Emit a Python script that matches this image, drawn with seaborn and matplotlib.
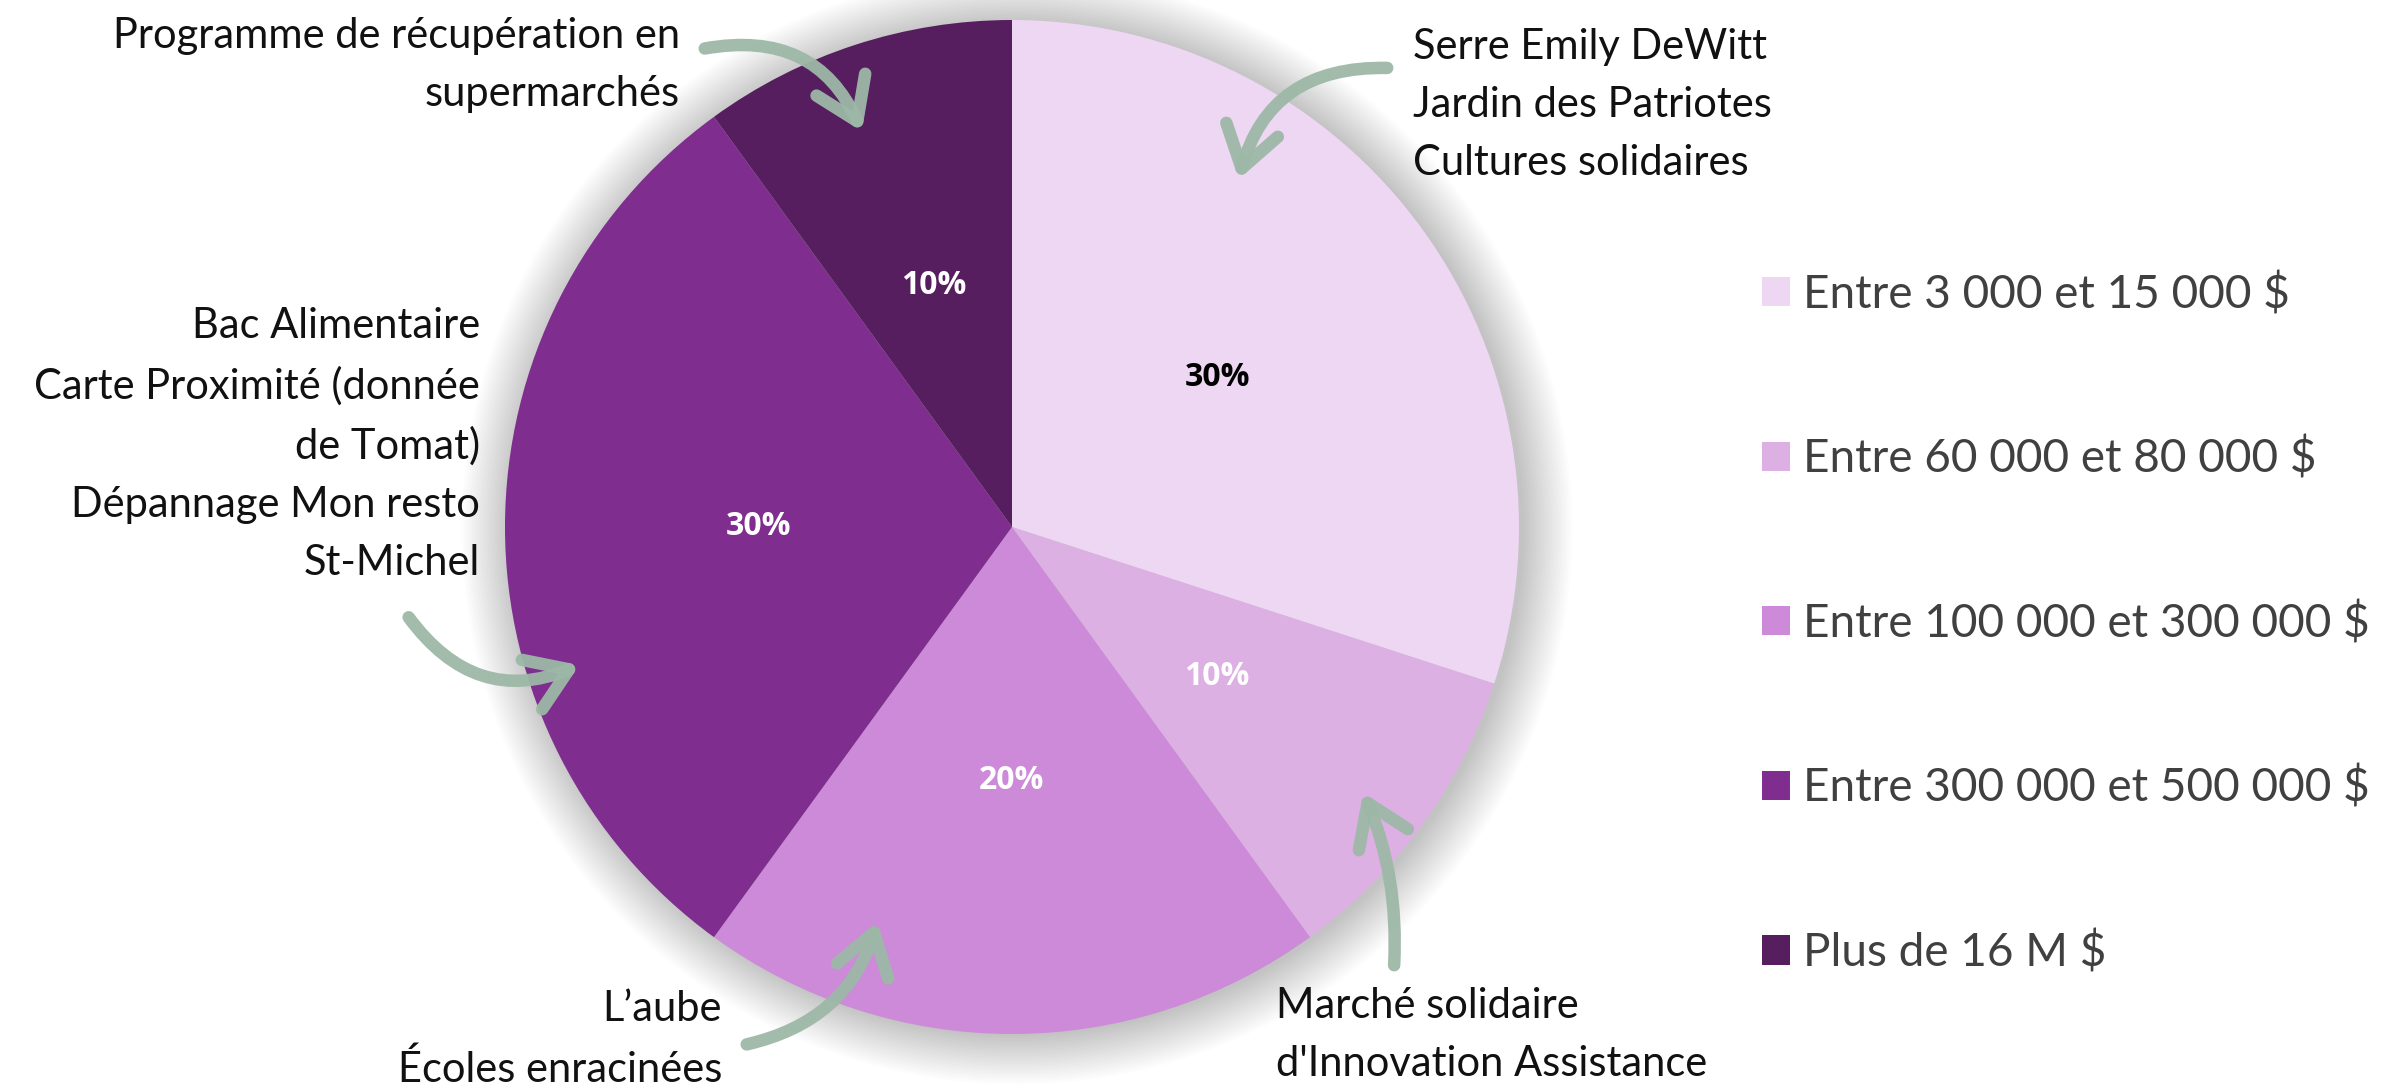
import matplotlib
matplotlib.use("Agg")
import matplotlib.pyplot as plt
import seaborn as sns
from matplotlib.patches import FancyArrowPatch, Circle

# ---- data ----
categories = ["Entre 3 000 et 15 000 $", "Entre 60 000 et 80 000 $",
              "Entre 100 000 et 300 000 $", "Entre 300 000 et 500 000 $",
              "Plus de 16 M $"]
shares = [30, 10, 20, 30, 10]
slice_colors = ["#EDD7F2", "#DDB0E3", "#CC8AD8", "#7F2D8E", "#561E5E"]
pct_text_colors = ["#000000", "#FFFFFF", "#FFFFFF", "#FFFFFF", "#FFFFFF"]

notes = [
    "Programme de récupération en\nsupermarchés",
    "Serre Emily DeWitt\nJardin des Patriotes\nCultures solidaires",
    "Bac Alimentaire\nCarte Proximité (donnée\nde Tomat)\nDépannage Mon resto\nSt-Michel",
    "L’aube\nÉcoles enracinées",
    "Marché solidaire\nd'Innovation Assistance",
]

sns.set_theme(style="white")
plt.rcParams["font.family"] = ["Lato", "DejaVu Sans"]

W, H = 2382, 1088
fig = plt.figure(figsize=(W / 100, H / 100), dpi=100)
fig.patch.set_facecolor("white")

# pie axes: center (1012, 527) px from top, radius ~507 px
cx, cy, r = 1012, 527, 507
ax = fig.add_axes([(cx - r) / W, (H - cy - r) / H, 2 * r / W, 2 * r / H])
ax.set_aspect("equal")

# soft shadow
for k in range(20):
    c = Circle((0.01, -0.004), 1.0 + k * 0.005, color="#000000",
               alpha=0.010, lw=0, zorder=0)
    c.set_clip_on(False)
    ax.add_patch(c)

wedges, texts, autotexts = ax.pie(
    shares, colors=slice_colors, startangle=90, counterclock=False,
    autopct="%.0f%%", pctdistance=0.5, radius=1.0,
    wedgeprops=dict(edgecolor="none", linewidth=0),
    textprops=dict(fontsize=23, fontweight="bold",
                   family=["Open Sans", "DejaVu Sans"]))
for w in wedges:
    w.set_zorder(2)
for t, c in zip(autotexts, pct_text_colors):
    t.set_color(c)
    t.set_zorder(3)
ax.set_xlim(-1, 1)
ax.set_ylim(-1, 1)
ax.axis("off")

# legend
leg = fig.legend(wedges, categories, loc="upper left",
                 bbox_to_anchor=(1762 / W, 1 - 272 / H), frameon=False,
                 fontsize=33, labelcolor="#404040", handlelength=0.6,
                 handleheight=0.6, handletextpad=0.3, labelspacing=2.63,
                 borderaxespad=0, borderpad=0)

# annotation texts
tkw = dict(fontsize=30, color="#111111", linespacing=1.65)
def fy(y):
    return 1 - y / H
fig.text(680 / W, fy(17), notes[0], ha="right", va="top", **tkw)
fig.text(1413 / W, fy(28), notes[1], ha="left", va="top", **tkw)
fig.text(480 / W, fy(307), notes[2], ha="right", va="top", **tkw)
fig.text(722 / W, fy(990), notes[3], ha="right", va="top", **tkw)
fig.text(1276 / W, fy(987), notes[4], ha="left", va="top", **tkw)

# curved arrows (figure pixel coords, y from top)
arrows = [((702, 49), (863, 134), -0.4),
          ((1390, 68), (1238, 182), 0.4),
          ((407, 615), (582, 664), 0.4),
          ((744, 1045), (878, 919), 0.3),
          ((1394, 968), (1362, 790), 0.12)]
for (x1, y1), (x2, y2), rad in arrows:
    a = FancyArrowPatch((x1 / W, fy(y1)), (x2 / W, fy(y2)),
                        transform=fig.transFigure,
                        connectionstyle=f"arc3,rad={rad}",
                        arrowstyle="->,head_length=0.9,head_width=0.6",
                        mutation_scale=32, lw=9, color="#9DB8A7",
                        alpha=0.95, capstyle="round", joinstyle="round",
                        zorder=10)
    fig.add_artist(a)

fig.savefig("out.png", dpi=100, facecolor="white")
